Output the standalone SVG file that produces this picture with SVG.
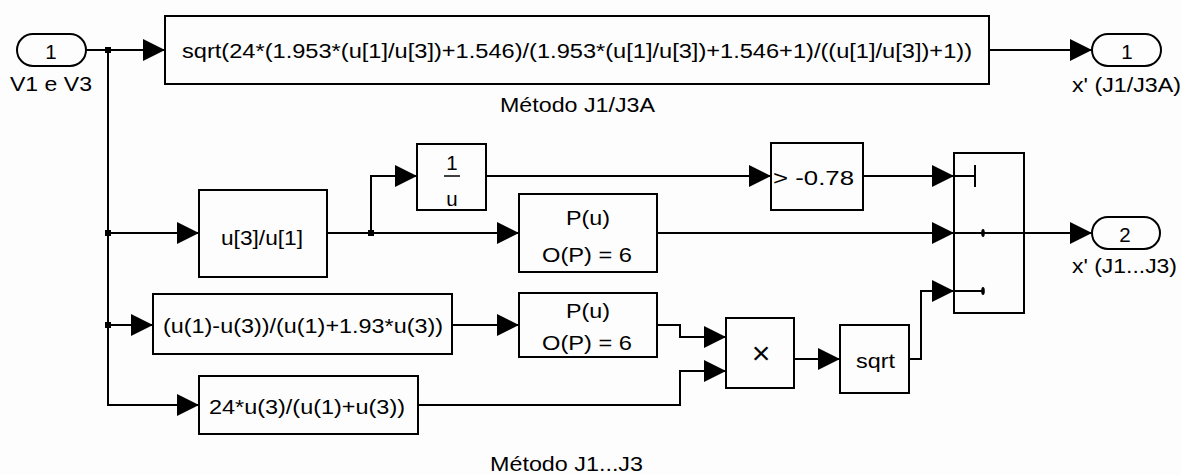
<svg xmlns="http://www.w3.org/2000/svg" width="1181" height="475" viewBox="0 0 1181 475">
<style>
.blk{fill:none;stroke:#000;stroke-width:2}
.port{fill:none;stroke:#000;stroke-width:2}
.w{fill:none;stroke:#000;stroke-width:2}
.t{font-family:"Liberation Sans",Arial,sans-serif;font-size:20.5px;fill:#000}
.m{text-anchor:middle}
</style>
<defs>
<marker id="ah" markerUnits="userSpaceOnUse" markerWidth="22" markerHeight="22" refX="22" refY="11" orient="auto" viewBox="0 0 22 22">
<path d="M0,0 L22,11 L0,22 z" fill="#000"/>
</marker>
</defs>
<rect width="1181" height="475" fill="#fdfdfd"/>

<g id="in1">
<rect class="port" x="17" y="34" width="69" height="32" rx="16" ry="16"/>
<text class="t m" x="51" y="59">1</text>
<text class="t" x="10" y="91" textLength="82" lengthAdjust="spacingAndGlyphs">V1 e V3</text>
</g>

<g id="fcnJ1J3A">
<rect class="blk" x="165" y="16" width="824" height="68"/>
<text class="t" x="182" y="58" textLength="790" lengthAdjust="spacingAndGlyphs">sqrt(24*(1.953*(u[1]/u[3])+1.546)/(1.953*(u[1]/u[3])+1.546+1)/((u[1]/u[3])+1))</text>
<text class="t" x="500" y="112" textLength="155" lengthAdjust="spacingAndGlyphs">Método J1/J3A</text>
</g>

<g id="out1">
<rect class="port" x="1092" y="34" width="69" height="32" rx="16" ry="16"/>
<text class="t m" x="1127" y="59">1</text>
<text class="t" x="1072" y="92" textLength="109" lengthAdjust="spacingAndGlyphs">x' (J1/J3A)</text>
</g>

<g id="ratio">
<rect class="blk" x="199" y="190" width="128" height="87"/>
<text class="t" x="221" y="245" textLength="82" lengthAdjust="spacingAndGlyphs">u[3]/u[1]</text>
</g>

<g id="recip">
<rect class="blk" x="417" y="144" width="69" height="66"/>
<text class="t m" x="452" y="170">1</text>
<line x1="444" y1="176" x2="460" y2="176" stroke="#000" stroke-width="1.5"/>
<text class="t m" x="452" y="206">u</text>
</g>

<g id="compare">
<rect class="blk" x="771" y="143" width="92" height="67"/>
<text class="t" x="773" y="185" textLength="81" lengthAdjust="spacingAndGlyphs">&gt; -0.78</text>
</g>

<g id="poly1">
<rect class="blk" x="519" y="194" width="138" height="78"/>
<text class="t m" x="588" y="225" textLength="44" lengthAdjust="spacingAndGlyphs">P(u)</text>
<text class="t" x="542" y="262" textLength="90" lengthAdjust="spacingAndGlyphs">O(P) = 6</text>
</g>

<g id="fcn2">
<rect class="blk" x="153" y="294" width="299" height="60"/>
<text class="t" x="163" y="333" textLength="280" lengthAdjust="spacingAndGlyphs">(u(1)-u(3))/(u(1)+1.93*u(3))</text>
</g>

<g id="poly2">
<rect class="blk" x="519" y="293" width="138" height="64"/>
<text class="t m" x="588" y="318" textLength="44" lengthAdjust="spacingAndGlyphs">P(u)</text>
<text class="t" x="542" y="350" textLength="90" lengthAdjust="spacingAndGlyphs">O(P) = 6</text>
</g>

<g id="fcn3">
<rect class="blk" x="199" y="376" width="219" height="58"/>
<text class="t" x="209" y="414" textLength="196" lengthAdjust="spacingAndGlyphs">24*u(3)/(u(1)+u(3))</text>
</g>

<g id="product">
<rect class="blk" x="726" y="318" width="68" height="70"/>
<text class="t m" x="761" y="364" style="font-size:32px">×</text>
</g>

<g id="sqrt">
<rect class="blk" x="840" y="325" width="69" height="68"/>
<text class="t" x="856" y="368" textLength="39" lengthAdjust="spacingAndGlyphs">sqrt</text>
</g>

<g id="switch">
<rect class="blk" x="954" y="153" width="70" height="160"/>
<line class="w" x1="954" y1="176" x2="975" y2="176"/>
<line class="w" x1="975" y1="165" x2="975" y2="187"/>
<line class="w" x1="954" y1="233" x2="1024" y2="233"/>
<ellipse cx="983" cy="233" rx="1.8" ry="4" fill="#000"/>
<line class="w" x1="954" y1="291" x2="983" y2="291"/>
<ellipse cx="983" cy="291" rx="1.8" ry="4" fill="#000"/>
</g>

<g id="out2">
<rect class="port" x="1092" y="217" width="68" height="32" rx="16" ry="16"/>
<text class="t m" x="1125" y="242">2</text>
<text class="t" x="1072" y="273" textLength="105" lengthAdjust="spacingAndGlyphs">x' (J1...J3)</text>
</g>

<text class="t" x="490" y="471" textLength="153" lengthAdjust="spacingAndGlyphs">Método J1...J3</text>

<g id="connectors">
<polyline class="w" points="86,50 165,50" marker-end="url(#ah)"/>
<polyline class="w" points="108,50 108,405 199,405" marker-end="url(#ah)"/>
<polyline class="w" points="108,233 199,233" marker-end="url(#ah)"/>
<polyline class="w" points="108,325 153,325" marker-end="url(#ah)"/>
<polyline class="w" points="327,233 519,233" marker-end="url(#ah)"/>
<polyline class="w" points="371,233 371,176 417,176" marker-end="url(#ah)"/>
<polyline class="w" points="486,176 771,176" marker-end="url(#ah)"/>
<polyline class="w" points="863,176 954,176" marker-end="url(#ah)"/>
<polyline class="w" points="657,233 954,233" marker-end="url(#ah)"/>
<polyline class="w" points="1024,233 1092,233" marker-end="url(#ah)"/>
<polyline class="w" points="452,325 519,325" marker-end="url(#ah)"/>
<polyline class="w" points="657,325 680,325 680,337 726,337" marker-end="url(#ah)"/>
<polyline class="w" points="418,405 680,405 680,371 726,371" marker-end="url(#ah)"/>
<polyline class="w" points="794,359 840,359" marker-end="url(#ah)"/>
<polyline class="w" points="909,359 921,359 921,291 954,291" marker-end="url(#ah)"/>
<polyline class="w" points="989,50 1092,50" marker-end="url(#ah)"/>
<rect x="105" y="47" width="6" height="6" fill="#000"/>
<rect x="105" y="230" width="6" height="6" fill="#000"/>
<rect x="105" y="322" width="6" height="6" fill="#000"/>
<rect x="368" y="230" width="6" height="6" fill="#000"/>
</g>
</svg>
